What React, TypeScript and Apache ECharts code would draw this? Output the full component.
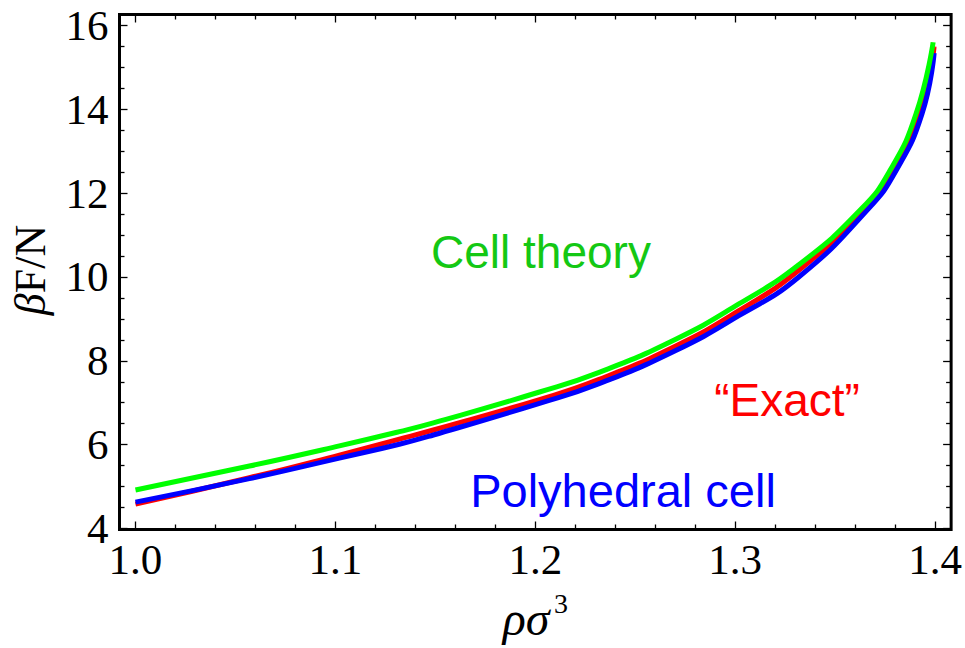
import React, { useEffect, useRef } from "react";
import * as echarts from "echarts";

// Tick values of the frame
const xMajorTicks = [1.0, 1.1, 1.2, 1.3, 1.4];
const yMajorTicks = [4, 6, 8, 10, 12, 14, 16];

// Free energy per particle, βF/N, against density ρσ³
const cellRho = [1.0, 1.057, 1.102, 1.132, 1.149, 1.2017, 1.2316, 1.27, 1.3016, 1.3318, 1.363, 1.3774, 1.3905, 1.399];
const cellF = [4.92, 5.49, 5.97, 6.31, 6.52, 7.25, 7.72, 8.51, 9.35, 10.29, 11.62, 12.54, 13.9, 15.6];

const exactRho = [1.0, 1.057, 1.102, 1.132, 1.149, 1.2017, 1.2316, 1.27, 1.3016, 1.3318, 1.3648, 1.379, 1.3924, 1.3995];
const exactF = [4.58, 5.21, 5.75, 6.13, 6.35, 7.07, 7.55, 8.35, 9.19, 10.16, 11.62, 12.54, 13.9, 15.5];

const polyRho = [1.0, 1.057, 1.102, 1.132, 1.149, 1.2017, 1.2316, 1.27, 1.3016, 1.3318, 1.3665, 1.3805, 1.3935, 1.3995];
const polyF = [4.63, 5.19, 5.68, 6.01, 6.23, 6.98, 7.45, 8.24, 9.07, 10.0, 11.62, 12.54, 13.9, 15.34];

const X_MIN = 0.992;
const X_MAX = 1.408;
const Y_MIN = 3.976;
const Y_MAX = 16.262;

function minorBetween(majors: number[], step: number, lo: number, hi: number): number[] {
  const out: number[] = [];
  const start = Math.ceil(lo / step - 1e-9);
  const end = Math.floor(hi / step + 1e-9);
  for (let k = start; k <= end; k++) {
    const v = +(k * step).toFixed(6);
    if (!majors.some((m) => Math.abs(m - v) < 1e-6)) out.push(v);
  }
  return out;
}

const xMinorTicks = minorBetween(xMajorTicks, 0.02, X_MIN, X_MAX);
const yMinorTicks = minorBetween(yMajorTicks, 0.5, Y_MIN, Y_MAX);

const zip = (xs: number[], ys: number[]) => xs.map((x, i) => [x, ys[i]]);

const serif = "'Liberation Serif', 'Times New Roman', serif";
const sans = "'Liberation Sans', Arial, sans-serif";

function tickAxis(
  kind: "x" | "y",
  position: string,
  values: number[],
  length: number,
  withLabels: boolean
) {
  return {
    type: "value",
    position,
    min: kind === "x" ? X_MIN : Y_MIN,
    max: kind === "x" ? X_MAX : Y_MAX,
    axisLine: { show: false, onZero: false },
    splitLine: { show: false },
    axisTick: {
      show: true,
      inside: true,
      length,
      customValues: values,
      lineStyle: { color: "#000", width: 1.3 },
    },
    axisLabel: withLabels
      ? {
          show: true,
          customValues: values,
          formatter: (v: number) => (kind === "x" ? v.toFixed(1) : String(Math.round(v))),
          fontFamily: serif,
          fontSize: 43,
          color: "#000",
          margin: kind === "x" ? 8 : 11,
        }
      : { show: false },
  };
}

function curve(name: string, xs: number[], ys: number[], color: string) {
  return {
    name,
    type: "line",
    data: zip(xs, ys),
    smooth: 0.5,
    showSymbol: false,
    lineStyle: { color, width: 5 },
  };
}

export default function App() {
  const ref = useRef<HTMLDivElement>(null);

  useEffect(() => {
    if (!ref.current) return;
    const chart = echarts.init(ref.current, undefined, { renderer: "svg" });

    const option = {
      animation: false,
      backgroundColor: "#fff",
      grid: {
        left: 119.5,
        right: 12.5,
        top: 14.5,
        bottom: 118.5,
        show: true,
        borderColor: "#000",
        borderWidth: 3,
        backgroundColor: "transparent",
      },
      xAxis: [
        tickAxis("x", "bottom", xMajorTicks, 8, true),
        tickAxis("x", "bottom", xMinorTicks, 5, false),
        tickAxis("x", "top", xMajorTicks, 8, false),
        tickAxis("x", "top", xMinorTicks, 5, false),
      ],
      yAxis: [
        tickAxis("y", "left", yMajorTicks, 8, true),
        tickAxis("y", "left", yMinorTicks, 5, false),
        tickAxis("y", "right", yMajorTicks, 8, false),
        tickAxis("y", "right", yMinorTicks, 5, false),
      ],
      series: [
        curve("“Exact”", exactRho, exactF, "#ff0000"),
        curve("Polyhedral cell", polyRho, polyF, "#0000ff"),
        curve("Cell theory", cellRho, cellF, "#00ff00"),
      ],
      graphic: [
        {
          type: "text",
          x: 541,
          y: 252,
          style: {
            text: "Cell theory",
            font: `46px ${sans}`,
            fill: "#14c814",
            textAlign: "center",
            textVerticalAlign: "middle",
          },
        },
        {
          type: "text",
          x: 787,
          y: 400,
          style: {
            text: "“Exact”",
            font: `46px ${sans}`,
            fill: "#ff0000",
            textAlign: "center",
            textVerticalAlign: "middle",
          },
        },
        {
          type: "text",
          x: 623,
          y: 490,
          style: {
            text: "Polyhedral cell",
            font: `47px ${sans}`,
            fill: "#0000ff",
            textAlign: "center",
            textVerticalAlign: "middle",
          },
        },
        {
          type: "text",
          x: 30,
          y: 270,
          rotation: Math.PI / 2,
          style: {
            text: "{i|β}F/N",
            font: `44px ${serif}`,
            fill: "#000",
            textAlign: "center",
            textVerticalAlign: "middle",
            rich: {
              i: { fontStyle: "italic", fontFamily: serif, fontSize: 44, fill: "#000" },
            },
          },
        },
        {
          type: "text",
          x: 526,
          y: 618,
          style: {
            text: "ρσ",
            font: `italic 48px ${serif}`,
            fill: "#000",
            textAlign: "center",
            textVerticalAlign: "middle",
          },
        },
        {
          type: "text",
          x: 561,
          y: 603,
          style: {
            text: "3",
            font: `28px ${serif}`,
            fill: "#000",
            textAlign: "center",
            textVerticalAlign: "middle",
          },
        },
      ],
    };

    chart.setOption(option as any);
    return () => chart.dispose();
  }, []);

  return (
    <div
      ref={ref}
      style={{ position: "fixed", left: 0, top: 0, width: 965, height: 648, background: "#fff" }}
    />
  );
}
